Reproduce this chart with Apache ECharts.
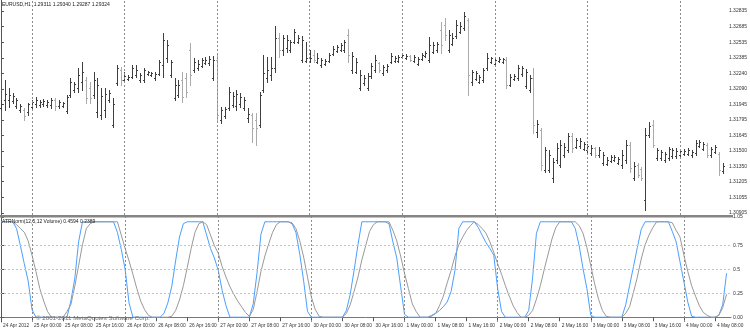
<!DOCTYPE html>
<html><head><meta charset="utf-8">
<script src="https://cdn.jsdelivr.net/npm/echarts@6/dist/echarts.min.js"></script>
<style>html,body{margin:0;padding:0;background:#fff}#c{width:750px;height:331px}</style>
</head><body><div id="c"></div>
<script>
// ---- data ----
const timeLabels = ["24 Apr 2012","25 Apr 00:00","25 Apr 08:00","25 Apr 16:00","26 Apr 00:00","26 Apr 08:00","26 Apr 16:00","27 Apr 00:00","27 Apr 08:00","27 Apr 16:00","30 Apr 00:00","30 Apr 08:00","30 Apr 16:00","1 May 00:00","1 May 08:00","1 May 16:00","2 May 00:00","2 May 08:00","2 May 16:00","3 May 00:00","3 May 08:00","3 May 16:00","4 May 00:00","4 May 08:00"];
const timeLabelIndex = [0,8,16,24,32,40,48,56,64,72,80,88,96,104,112,120,128,136,144,152,160,168,176,184];
const daySeparators = [8,32,56,80,104,128,152,176];
const priceTicks = [1.30905,1.31055,1.31205,1.31350,1.31500,1.31645,1.31795,1.31945,1.32090,1.32240,1.32385,1.32535,1.32685,1.32835];
const indTicks = [0,0.25,0.5,0.75,1.05];
const indTickLabels = ["0.00","0.25","0.5","0.75","1.05"];
const levelValues = [0.25,0.5,0.75];
const headerText = "EURUSD,H1  1.29311 1.29340 1.29287 1.29324";
const indicatorTitle = "ATRNorm(12,5,12 Volume) 0.4594 0.2389";
const copyrightText = "\u00A9 2001-2011 MetaQuotes Software Corp.";

// [open, high, low, close]
const ohlc = [
[1.31909,1.31985,1.31890,1.31947],[1.31985,1.32176,1.31890,1.32042],[1.31985,1.32100,1.31918,1.32033],[1.31976,1.32052,1.31956,1.32023],
[1.31928,1.32004,1.31909,1.31985],[1.31890,1.31947,1.31870,1.31928],[1.31890,1.31909,1.31794,1.31832],[1.31870,1.31956,1.31842,1.31947],
[1.31918,1.31985,1.31890,1.31966],[1.31947,1.32014,1.31918,1.31985],[1.31937,1.31985,1.31918,1.31966],[1.31947,1.31995,1.31928,1.31976],
[1.31937,1.31985,1.31918,1.31966],[1.31937,1.32004,1.31909,1.31985],[1.31985,1.32004,1.31890,1.31928],[1.31928,1.31985,1.31909,1.31966],
[1.31928,1.31966,1.31918,1.31956],[1.31880,1.32033,1.31861,1.32014],[1.32033,1.32195,1.32014,1.32157],[1.32081,1.32157,1.32061,1.32138],
[1.32100,1.32291,1.32061,1.32224],[1.32157,1.32348,1.32081,1.32252],[1.32176,1.32205,1.31956,1.32004],[1.32100,1.32157,1.31956,1.32004],
[1.32033,1.32252,1.32004,1.32176],[1.31870,1.32195,1.31823,1.32128],[1.31842,1.32100,1.31804,1.32023],[1.31890,1.32100,1.31823,1.32042],
[1.31985,1.32081,1.31966,1.32052],[1.31746,1.32004,1.31727,1.31947],[1.32147,1.32319,1.32128,1.32291],[1.32272,1.32300,1.32128,1.32176],
[1.32176,1.32252,1.32157,1.32214],[1.32186,1.32224,1.32176,1.32205],[1.32205,1.32319,1.32195,1.32291],[1.32224,1.32319,1.32205,1.32272],
[1.32176,1.32243,1.32157,1.32224],[1.32176,1.32291,1.32157,1.32272],[1.32233,1.32262,1.32224,1.32252],[1.32224,1.32252,1.32214,1.32243],
[1.32195,1.32252,1.32176,1.32233],[1.32233,1.32367,1.32224,1.32348],[1.32319,1.32625,1.32205,1.32558],[1.32386,1.32558,1.32348,1.32510],
[1.32224,1.32367,1.32205,1.32348],[1.32004,1.32195,1.31985,1.32128],[1.32033,1.32176,1.32014,1.32128],[1.32176,1.32252,1.31966,1.32014],
[1.32195,1.32243,1.32014,1.32061],[1.32463,1.32529,1.32128,1.32224],[1.32272,1.32386,1.32252,1.32348],[1.32291,1.32367,1.32272,1.32329],
[1.32310,1.32386,1.32300,1.32367],[1.32338,1.32396,1.32329,1.32367],[1.32338,1.32405,1.32319,1.32377],[1.32195,1.32405,1.32176,1.32367],
[1.32367,1.32415,1.31775,1.31842],[1.31794,1.31918,1.31765,1.31890],[1.31832,1.31918,1.31813,1.31899],[1.31909,1.32109,1.31890,1.32061],
[1.31937,1.32061,1.31918,1.32023],[1.31928,1.32081,1.31890,1.32042],[1.31947,1.32052,1.31918,1.32014],[1.31909,1.32014,1.31890,1.31985],
[1.31813,1.31909,1.31775,1.31851],[1.31842,1.31861,1.31584,1.31718],[1.31794,1.31861,1.31555,1.31718],[1.31746,1.32061,1.31727,1.32033],
[1.32081,1.32415,1.32061,1.32243],[1.32195,1.32396,1.32157,1.32272],[1.32224,1.32396,1.32176,1.32291],[1.32291,1.32692,1.32252,1.32577],
[1.32577,1.32625,1.32396,1.32463],[1.32463,1.32606,1.32415,1.32577],[1.32482,1.32606,1.32443,1.32558],[1.32463,1.32558,1.32443,1.32539],
[1.32539,1.32663,1.32529,1.32634],[1.32539,1.32606,1.32529,1.32577],[1.32367,1.32596,1.32348,1.32558],[1.32357,1.32539,1.32348,1.32386],
[1.32357,1.32463,1.32348,1.32386],[1.32415,1.32463,1.32348,1.32367],[1.32348,1.32434,1.32338,1.32386],[1.32319,1.32386,1.32300,1.32367],
[1.32329,1.32377,1.32319,1.32357],[1.32357,1.32434,1.32348,1.32415],[1.32424,1.32501,1.32415,1.32472],[1.32453,1.32510,1.32443,1.32491],
[1.32463,1.32529,1.32453,1.32510],[1.32463,1.32558,1.32443,1.32539],[1.32606,1.32663,1.32348,1.32415],[1.32272,1.32443,1.32243,1.32405],
[1.32252,1.32386,1.32243,1.32348],[1.32100,1.32272,1.32081,1.32224],[1.32147,1.32224,1.32128,1.32195],[1.32100,1.32243,1.32081,1.32214],
[1.32214,1.32338,1.32195,1.32310],[1.32272,1.32415,1.32252,1.32367],[1.32338,1.32348,1.32252,1.32272],[1.32243,1.32319,1.32224,1.32300],
[1.32272,1.32329,1.32252,1.32310],[1.32348,1.32434,1.32338,1.32405],[1.32357,1.32405,1.32348,1.32386],[1.32357,1.32415,1.32348,1.32396],
[1.32396,1.32434,1.32386,1.32415],[1.32386,1.32424,1.32377,1.32405],[1.32405,1.32415,1.32357,1.32367],[1.32357,1.32415,1.32348,1.32396],
[1.32329,1.32396,1.32319,1.32377],[1.32377,1.32434,1.32367,1.32415],[1.32405,1.32453,1.32396,1.32434],[1.32367,1.32587,1.32348,1.32510],
[1.32443,1.32539,1.32434,1.32510],[1.32463,1.32539,1.32443,1.32520],[1.32654,1.32730,1.32434,1.32510],[1.32701,1.32768,1.32558,1.32606],
[1.32463,1.32654,1.32443,1.32606],[1.32520,1.32625,1.32510,1.32577],[1.32596,1.32749,1.32577,1.32701],[1.32634,1.32730,1.32625,1.32692],
[1.32673,1.32825,1.32654,1.32787],[1.32749,1.32768,1.32033,1.32224],[1.32157,1.32272,1.32128,1.32252],[1.32186,1.32262,1.32176,1.32243],
[1.32157,1.32224,1.32147,1.32205],[1.32176,1.32291,1.32157,1.32272],[1.32291,1.32434,1.32272,1.32386],[1.32348,1.32396,1.32338,1.32386],
[1.32329,1.32386,1.32319,1.32367],[1.32357,1.32396,1.32348,1.32377],[1.32348,1.32386,1.32338,1.32377],[1.32367,1.32396,1.32100,1.32128],
[1.32128,1.32233,1.32119,1.32205],[1.32186,1.32233,1.32176,1.32214],[1.32195,1.32319,1.32176,1.32291],[1.32233,1.32310,1.32214,1.32291],
[1.32119,1.32281,1.32100,1.32252],[1.32081,1.32224,1.32061,1.32195],[1.32195,1.32291,1.31670,1.31746],[1.31679,1.31794,1.31632,1.31756],
[1.31699,1.31718,1.31317,1.31364],[1.31317,1.31536,1.31297,1.31508],[1.31317,1.31508,1.31297,1.31460],[1.31241,1.31431,1.31202,1.31393],
[1.31412,1.31574,1.31383,1.31527],[1.31364,1.31603,1.31345,1.31555],[1.31460,1.31574,1.31441,1.31536],[1.31508,1.31670,1.31488,1.31641],
[1.31641,1.31670,1.31488,1.31527],[1.31536,1.31622,1.31527,1.31603],[1.31546,1.31622,1.31527,1.31593],[1.31517,1.31584,1.31508,1.31565],
[1.31508,1.31565,1.31488,1.31546],[1.31479,1.31555,1.31460,1.31527],[1.31527,1.31536,1.31441,1.31460],[1.31460,1.31536,1.31441,1.31508],
[1.31383,1.31488,1.31364,1.31460],[1.31374,1.31441,1.31364,1.31412],[1.31402,1.31460,1.31393,1.31441],[1.31412,1.31460,1.31402,1.31441],
[1.31383,1.31441,1.31374,1.31422],[1.31364,1.31508,1.31336,1.31460],[1.31412,1.31603,1.31383,1.31555],[1.31555,1.31584,1.31297,1.31336],
[1.31241,1.31393,1.31221,1.31355],[1.31364,1.31383,1.31250,1.31269],[1.31326,1.31345,1.31221,1.31241],[1.31030,1.31718,1.30935,1.31651],
[1.31651,1.31775,1.31632,1.31737],[1.31746,1.31794,1.31536,1.31555],[1.31431,1.31527,1.31412,1.31508],[1.31431,1.31508,1.31412,1.31488],
[1.31412,1.31488,1.31393,1.31469],[1.31431,1.31536,1.31412,1.31517],[1.31450,1.31527,1.31431,1.31508],[1.31450,1.31527,1.31431,1.31498],
[1.31460,1.31517,1.31441,1.31498],[1.31469,1.31517,1.31460,1.31498],[1.31469,1.31527,1.31460,1.31508],[1.31460,1.31508,1.31441,1.31488],
[1.31479,1.31603,1.31460,1.31574],[1.31546,1.31603,1.31536,1.31584],[1.31517,1.31584,1.31508,1.31565],[1.31555,1.31574,1.31441,1.31460],
[1.31460,1.31536,1.31441,1.31517],[1.31488,1.31555,1.31479,1.31536],[1.31469,1.31488,1.31269,1.31317],[1.31307,1.31383,1.31288,1.31355]
];

const atrBlue = [
1,1,1,1,0.93,0.75,0.56,0.38,0.08,0,0,0,0,0,0,0,0,0,0.17,0.40,0.79,1,
1,1,1,1,1,1,1,1,0.89,0.71,0.50,0.15,0,0,0,0,0,0,0,0,0.04,0.15,0.32,0.59,0.84,0.98,
1,1,1,1,1,0.86,0.72,0.62,0.49,0.28,0.12,0,0,0,0,0,0,0.14,0.47,0.87,
1,1,1,1,1,1,1,0.98,0.89,0.66,0.38,0.06,0,0,0,0,0,0,0,0,0,0.07,0.24,0.49,0.76,
1,1,1,1,1,1,1,0.98,0.79,0.62,0.32,0.03,0,0,0,0,0,0,0.02,0.04,0.07,0.11,0.16,0.27,0.49,0.93,
1,1,1,1,0.94,0.86,0.78,0.72,0.65,0.30,0.06,0,0,0,0,0,0,0.07,0.41,0.88,
1,1,1,1,1,1,1,1,1,0.93,0.75,0.51,0.30,0.02,0,0,0,0,0,0,0,0,0.13,0.33,0.53,0.73,0.92,
1,1,1,1,1,1,1,0.90,0.79,0.58,0.37,0.16,0.01,0,0,0,0,0,0,0.02,0.13,0.46
];
const atrGray = [
1,1,1,1,0.97,0.93,0.89,0.80,0.65,0.48,0.30,0.17,0.06,0,0,0,0,
0.06,0.13,0.32,0.54,0.76,0.93,0.98,1,1,1,1,1,1,1,
0.86,0.72,0.59,0.45,0.30,0.17,0.08,0.02,0,0,0,0,0,
0.01,0.07,0.18,0.33,0.52,0.72,0.89,0.98,1,
0.97,0.86,0.75,0.67,0.53,0.42,0.32,0.24,0.17,0.11,0.05,0.01,
0.08,0.27,0.48,0.64,0.77,0.89,0.97,1,1,1,
0.99,0.93,0.80,0.63,0.42,0.21,0.08,0.01,0,0,0,0,0,0,
0.04,0.13,0.27,0.42,0.60,0.75,0.90,0.97,1,1,1,1,
0.91,0.80,0.64,0.46,0.30,0.14,0.06,0,0,0,
0.01,0.04,0.12,0.22,0.36,0.49,0.64,0.76,0.84,0.91,0.96,1,
0.97,0.93,0.88,0.79,0.68,0.56,0.45,0.33,0.22,0.12,0.05,0,0,
0.02,0.07,0.19,0.33,0.50,0.66,0.82,0.94,1,1,1,1,1,
0.96,0.88,0.73,0.54,0.35,0.19,0.07,0.01,0,0,0,0,
0.04,0.11,0.26,0.42,0.61,0.76,0.86,0.94,1,1,1,1,
0.99,0.91,0.84,0.65,0.48,0.33,0.22,0.12,0.05,0.02,0,0,0.02,0.10,0.24
];

// ---- chart ----
const FONT = "Liberation Sans";
const UP = "#3f3f3f", DOWN = "#ababab";
const xMin = -0.258, xMax = 188.14;
const chart = echarts.init(document.getElementById('c'), null, {renderer: 'canvas'});

function sepMarkLine() {
  return {
    silent: true, symbol: ['none','none'], label: {show: false},
    lineStyle: {color: '#8c8c8c', type: [2,2], width: 1},
    emphasis: {disabled: true},
    data: daySeparators.map(i => ({xAxis: i}))
  };
}

const option = {
  animation: false,
  backgroundColor: '#ffffff',
  textStyle: {fontFamily: FONT},
  grid: [
    {left: 0, top: 0, width: 731, height: 215, show: false},
    {left: 0, top: 217, width: 731, height: 105, show: false}
  ],
  xAxis: [
    {type: 'value', gridIndex: 0, min: xMin, max: xMax, show: false},
    {type: 'value', gridIndex: 1, min: xMin, max: xMax,
      axisLine: {show: true, lineStyle: {color: '#777', width: 1}},
      axisTick: {show: true, customValues: timeLabelIndex, length: 4, inside: false, lineStyle: {color: '#555'}},
      axisLabel: {show: true, customValues: timeLabelIndex, align: 'left', margin: 1, fontSize: 4.8, color: '#333',
        fontFamily: FONT, padding: [0,0,0,2],
        formatter: v => timeLabels[timeLabelIndex.indexOf(Math.round(v))] || ''},
      splitLine: {show: false}}
  ],
  yAxis: [
    {type: 'value', gridIndex: 0, position: 'right', min: 1.30887, max: 1.32940, scale: true,
      axisLine: {show: true, lineStyle: {color: '#555', width: 1}},
      axisTick: {show: true, customValues: priceTicks, length: 3, lineStyle: {color: '#555'}},
      axisLabel: {show: true, customValues: priceTicks, margin: 2, fontSize: 5, color: '#333', fontFamily: FONT,
        formatter: v => v.toFixed(5)},
      splitLine: {show: false}},
    {type: 'value', gridIndex: 1, position: 'right', min: -0.05, max: 1.05,
      axisLine: {show: true, lineStyle: {color: '#555', width: 1}},
      axisTick: {show: true, customValues: indTicks, length: 3, lineStyle: {color: '#555'}},
      axisLabel: {show: true, customValues: indTicks, margin: 2, fontSize: 5, color: '#333', fontFamily: FONT,
        formatter: v => { const k = indTicks.findIndex(t => Math.abs(t - v) < 1e-6); return k >= 0 ? indTickLabels[k] : ''; }},
      splitLine: {show: false}}
  ],
  graphic: [
    {type: 'rect', shape: {x: 0, y: 215, width: 733, height: 2.5}, style: {fill: '#858585'}, silent: true, z: 10},
    {type: 'text', left: 2, top: 2, style: {text: headerText, font: '5px "Liberation Sans"', fill: '#222'}, silent: true, z: 11},
    {type: 'text', left: 2, top: 219, style: {text: indicatorTitle, font: '5px "Liberation Sans"', fill: '#222'}, silent: true, z: 11},
    {type: 'text', left: 36, top: 315, style: {text: copyrightText, font: '6.2px "Liberation Sans"', fill: '#6e6e6e'}, silent: true, z: 11}
  ],
  series: [
    {
      type: 'custom', xAxisIndex: 0, yAxisIndex: 0,
      data: ohlc.map((d, i) => [i, d[0], d[1], d[2], d[3]]),
      encode: {x: 0, y: [1,2,3,4]},
      clip: true,
      renderItem: function (params, api) {
        const i = api.value(0), o = api.value(1), h = api.value(2), l = api.value(3), c = api.value(4);
        const pH = api.coord([i, h]), pL = api.coord([i, l]), pO = api.coord([i, o]), pC = api.coord([i, c]);
        const x = Math.round(pH[0]) + 0.5;
        const col = c >= o ? UP : DOWN;
        const st = {stroke: col, lineWidth: 1};
        const yo = Math.round(pO[1]) + 0.5, yc = Math.round(pC[1]) + 0.5;
        return {type: 'group', children: [
          {type: 'line', shape: {x1: x, y1: Math.round(pH[1]), x2: x, y2: Math.round(pL[1]) + 1}, style: st},
          {type: 'line', shape: {x1: x - 1.5, y1: yo, x2: x, y2: yo}, style: st},
          {type: 'line', shape: {x1: x, y1: yc, x2: x + 1.5, y2: yc}, style: st}
        ]};
      },
      markLine: sepMarkLine(),
      z: 2
    },
    {
      type: 'line', name: 'blue', xAxisIndex: 1, yAxisIndex: 1,
      data: atrBlue.map((v, i) => [i, v]),
      showSymbol: false, symbol: 'none',
      lineStyle: {color: '#4a9fff', width: 1},
      markLine: {
        silent: true, symbol: ['none','none'], label: {show: false},
        lineStyle: {color: '#c4c4c4', type: [2,2], width: 1},
        data: levelValues.map(v => ({yAxis: v}))
      },
      z: 3
    },
    {
      type: 'line', name: 'gray', xAxisIndex: 1, yAxisIndex: 1,
      data: atrGray.map((v, i) => [i, v]),
      showSymbol: false, symbol: 'none',
      lineStyle: {color: '#999999', width: 1},
      markLine: sepMarkLine(),
      z: 4
    }
  ]
};
chart.setOption(option);
</script>
</body></html>
